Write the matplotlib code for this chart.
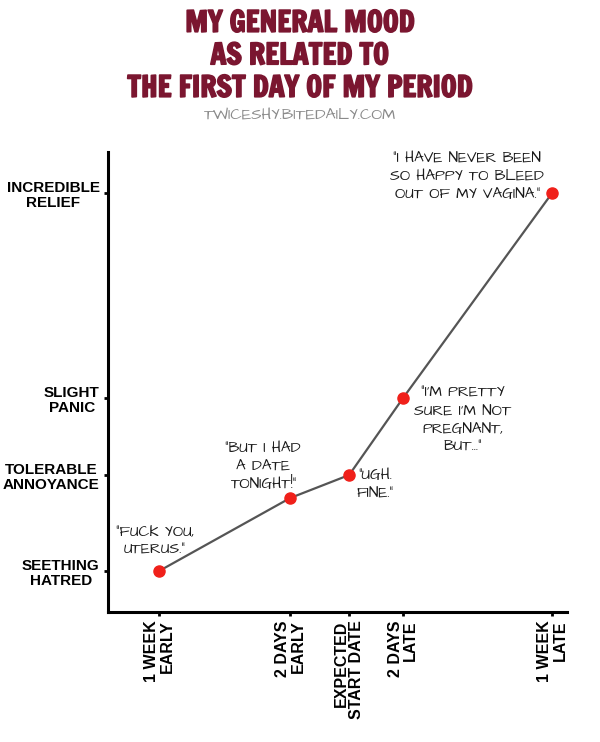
import matplotlib.pyplot as plt
import matplotlib.patheffects as pe

# mood scale (height above the x axis) and day positions
mood_labels = ["SEETHING\nHATRED", "TOLERABLE\nANNOYANCE", "SLIGHT\nPANIC", "INCREDIBLE\nRELIEF"]
mood_levels = [0.41, 1.37, 2.14, 4.19]

day_labels = ["1 WEEK\nEARLY", "2 DAYS\nEARLY", "EXPECTED\nSTART DATE", "2 DAYS\nLATE", "1 WEEK\nLATE"]
day_pos = [-7, -2.33, -0.23, 1.69, 7]

mood_values = [0.41, 1.14, 1.37, 2.14, 4.19]

quotes = [
    '"FUCK YOU,\nUTERUS."',
    '"BUT I HAD\nA DATE\nTONIGHT!"',
    '"UGH.\nFINE."',
    '"I\'M PRETTY\nSURE I\'M NOT\nPREGNANT,\nBUT..."',
    '"I HAVE NEVER BEEN\nSO HAPPY TO BLEED\nOUT OF MY VAGINA."',
]
# text offsets in pixels from each point
quote_offsets = [(-4, 29), (-27, 31), (26, -10), (60, -23), (-85, 16)]

TITLE_COLOR = "#7b1630"
HAND = ["Architects Daughter", "DejaVu Sans"]
TITLE_FONT = ["Francois One", "Fjalla One", "DejaVu Sans"]
LABEL_FONT = ["Liberation Sans", "DejaVu Sans"]

fig = plt.figure(figsize=(6, 7.42), dpi=100)
ax = fig.add_axes([0.18, 0.1752, 0.765, 0.6199])

ax.plot(day_pos, mood_values, color="#555555", lw=1.6, zorder=2)
ax.plot(day_pos, mood_values, "o", color="#f0201a", ms=8, zorder=3)

for x, y, q, (dx, dy) in zip(day_pos, mood_values, quotes, quote_offsets):
    ax.annotate(q, xy=(x, y), xytext=(dx, dy), textcoords="offset pixels",
                ha="center", va="center", multialignment="center",
                fontsize=11, family=HAND, color="#1a1a1a",
                linespacing=1.3)

ax.set_xlim(-8.82, 7.53)
ax.set_ylim(0, 4.6)

ax.set_yticks(mood_levels)
ax.set_yticklabels(mood_labels, fontsize=11, fontweight="bold",
                   family=LABEL_FONT, multialignment="center", linespacing=1.1)
ax.set_xticks(day_pos)
ax.set_xticklabels(day_labels, rotation=90, fontsize=11.5, fontweight="bold",
                   family=LABEL_FONT, multialignment="right",
                   va="top", ha="center", linespacing=1.05)

ax.tick_params(axis="both", length=3, width=2, color="black", pad=3)
for side in ["top", "right"]:
    ax.spines[side].set_visible(False)
for side in ["left", "bottom"]:
    ax.spines[side].set_linewidth(2.2)

title_lines = ["MY GENERAL MOOD", "AS RELATED TO", "THE FIRST DAY OF MY PERIOD"]
for i, line in enumerate(title_lines):
    fig.text(0.5, 1 - (23 + i * 32.5) / 742, line, ha="center", va="center",
             fontsize=20.8, family=TITLE_FONT, color=TITLE_COLOR,
             path_effects=[pe.withStroke(linewidth=1.2, foreground=TITLE_COLOR)])
fig.text(0.5, 1 - 116 / 742, "TWICESHY.BITEDAILY.COM", ha="center", va="center",
         fontsize=11.5, color="#8a8a8a", family=HAND)

fig.savefig("out.png", dpi=100)
